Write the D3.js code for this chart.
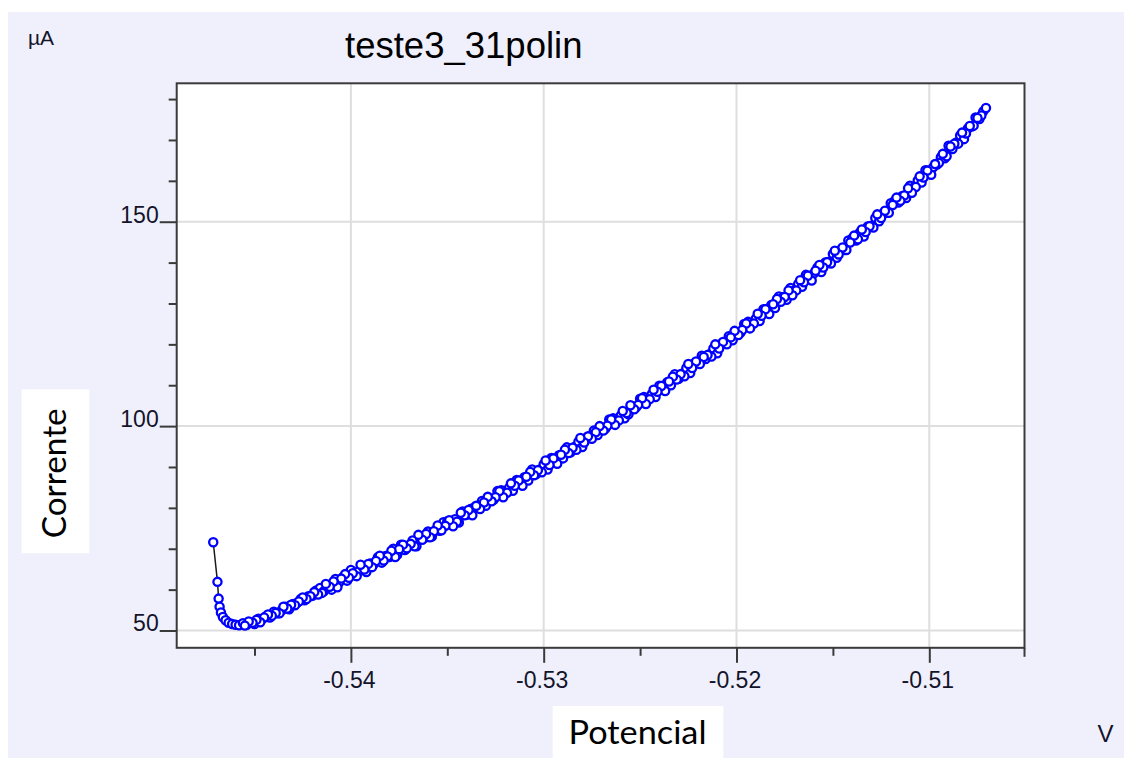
<!DOCTYPE html>
<html>
<head>
<meta charset="utf-8">
<script src="https://cdn.jsdelivr.net/npm/d3@7"></script>
<style>
  html, body { margin: 0; padding: 0; background: #ffffff; }
  svg { display: block; }
</style>
</head>
<body>
<svg id="chart" width="1124" height="758"></svg>
<script>
// ---- data ---------------------------------------------------------------
const chartTitle = "teste3_31polin";
const yUnit = "µA";
const xUnit = "V";
const yAxisTitle = "Corrente";
const xAxisTitle = "Potencial";

const xTicks = [-0.54, -0.53, -0.52, -0.51];
const xMinorTicks = [-0.545, -0.535, -0.525, -0.515];
const yTicks = [50, 100, 150];
const yMinorTicks = [60, 70, 80, 90, 110, 120, 130, 140, 160, 170, 180];

// forward sweep: applied potential (V)
const potential = [
  -0.54714, -0.54692, -0.54686, -0.54681, -0.54674, -0.54664, -0.54650, -0.54634, -0.54616, -0.54598, -0.54580,
  -0.5456, -0.5454, -0.5452, -0.5450, -0.5448, -0.5446, -0.5444, -0.5442, -0.5440, -0.5438,
  -0.5436, -0.5434, -0.5432, -0.5430, -0.5428, -0.5426, -0.5424, -0.5422, -0.5420, -0.5418,
  -0.5416, -0.5414, -0.5412, -0.5410, -0.5408, -0.5406, -0.5404, -0.5402, -0.5400, -0.5398,
  -0.5396, -0.5394, -0.5392, -0.5390, -0.5388, -0.5386, -0.5384, -0.5382, -0.5380, -0.5378,
  -0.5376, -0.5374, -0.5372, -0.5370, -0.5368, -0.5366, -0.5364, -0.5362, -0.5360, -0.5358,
  -0.5356, -0.5354, -0.5352, -0.5350, -0.5348, -0.5346, -0.5344, -0.5342, -0.5340, -0.5338,
  -0.5336, -0.5334, -0.5332, -0.5330, -0.5328, -0.5326, -0.5324, -0.5322, -0.5320, -0.5318,
  -0.5316, -0.5314, -0.5312, -0.5310, -0.5308, -0.5306, -0.5304, -0.5302, -0.5300, -0.5298,
  -0.5296, -0.5294, -0.5292, -0.5290, -0.5288, -0.5286, -0.5284, -0.5282, -0.5280, -0.5278,
  -0.5276, -0.5274, -0.5272, -0.5270, -0.5268, -0.5266, -0.5264, -0.5262, -0.5260, -0.5258,
  -0.5256, -0.5254, -0.5252, -0.5250, -0.5248, -0.5246, -0.5244, -0.5242, -0.5240, -0.5238,
  -0.5236, -0.5234, -0.5232, -0.5230, -0.5228, -0.5226, -0.5224, -0.5222, -0.5220, -0.5218,
  -0.5216, -0.5214, -0.5212, -0.5210, -0.5208, -0.5206, -0.5204, -0.5202, -0.5200, -0.5198,
  -0.5196, -0.5194, -0.5192, -0.5190, -0.5188, -0.5186, -0.5184, -0.5182, -0.5180, -0.5178,
  -0.5176, -0.5174, -0.5172, -0.5170, -0.5168, -0.5166, -0.5164, -0.5162, -0.5160, -0.5158,
  -0.5156, -0.5154, -0.5152, -0.5150, -0.5148, -0.5146, -0.5144, -0.5142, -0.5140, -0.5138,
  -0.5136, -0.5134, -0.5132, -0.5130, -0.5128, -0.5126, -0.5124, -0.5122, -0.5120, -0.5118,
  -0.5116, -0.5114, -0.5112, -0.5110, -0.5108, -0.5106, -0.5104, -0.5102, -0.5100, -0.5098,
  -0.5096, -0.5094, -0.5092, -0.5090, -0.5088, -0.5086, -0.5084, -0.5082, -0.5080, -0.5078,
  -0.5076, -0.5074, -0.5072, -0.50706
];

// forward sweep: measured current (µA)
const current = [
  71.6, 61.9, 57.8, 55.8, 54.4, 53.3, 52.5, 51.9, 51.6, 51.4, 51.3,
  51.8, 51.4, 51.9, 51.6, 52.9, 52.8, 53.5, 53.2, 54.6, 54.2,
  54.9, 55.8, 55.2, 56.5, 56.7, 57.7, 57.4, 58.4, 58.5, 59.8,
  60.4, 59.6, 60.8, 60.0, 62.6, 61.8, 63.1, 62.2, 64.8, 63.5,
  64.5, 65.7, 64.3, 66.4, 66.3, 67.9, 66.6, 68.2, 68.0, 70.0,
  68.5, 71.0, 69.7, 70.8, 72.0, 70.6, 72.7, 72.6, 74.2, 73.0,
  74.6, 74.4, 76.5, 76.7, 75.9, 77.2, 76.4, 79.1, 78.3, 79.7,
  80.1, 80.0, 81.7, 80.5, 82.2, 82.0, 84.1, 84.3, 83.6, 84.9,
  84.2, 86.8, 86.1, 87.5, 86.7, 89.4, 88.2, 89.4, 90.7, 89.4,
  92.2, 91.5, 92.9, 92.1, 94.8, 93.6, 94.9, 96.2, 94.9, 97.1,
  97.1, 98.9, 97.8, 99.5, 99.4, 101.6, 101.9, 101.3, 102.6, 101.9,
  102.9, 104.6, 104.6, 106.7, 107.1, 106.4, 107.8, 107.1, 109.9, 109.2,
  110.7, 110.0, 112.7, 111.6, 112.9, 114.2, 113.0, 115.3, 115.4, 117.2,
  116.4, 117.6, 119.0, 117.8, 120.1, 120.2, 122.0, 121.0, 122.8, 122.8,
  125.0, 125.5, 124.9, 126.3, 125.7, 128.6, 128.0, 129.6, 128.9, 131.7,
  131.5, 130.9, 133.8, 133.2, 134.8, 134.1, 137.0, 135.9, 137.3, 138.8,
  137.7, 140.0, 140.2, 142.1, 141.2, 143.1, 143.1, 145.4, 145.9, 145.4,
  147.4, 146.4, 148.8, 149.0, 150.9, 150.1, 152.0, 152.2, 154.5, 155.1,
  154.7, 156.3, 155.8, 158.8, 158.4, 160.1, 159.6, 162.6, 161.7, 163.3,
  164.0, 165.8, 165.5, 168.6, 167.8, 169.4, 171.1, 170.2, 172.8, 173.3,
  175.5, 175.1, 177.0, 177.8
];

// return sweep (listed by increasing potential): potential (V)
const returnPotential = [
  -0.5455, -0.5453, -0.5451, -0.5449, -0.5447, -0.5445, -0.5443, -0.5441, -0.5439, -0.5437,
  -0.5435, -0.5433, -0.5431, -0.5429, -0.5427, -0.5425, -0.5423, -0.5421, -0.5419, -0.5417,
  -0.5415, -0.5413, -0.5411, -0.5409, -0.5407, -0.5405, -0.5403, -0.5401, -0.5399, -0.5397,
  -0.5395, -0.5393, -0.5391, -0.5389, -0.5387, -0.5385, -0.5383, -0.5381, -0.5379, -0.5377,
  -0.5375, -0.5373, -0.5371, -0.5369, -0.5367, -0.5365, -0.5363, -0.5361, -0.5359, -0.5357,
  -0.5355, -0.5353, -0.5351, -0.5349, -0.5347, -0.5345, -0.5343, -0.5341, -0.5339, -0.5337,
  -0.5335, -0.5333, -0.5331, -0.5329, -0.5327, -0.5325, -0.5323, -0.5321, -0.5319, -0.5317,
  -0.5315, -0.5313, -0.5311, -0.5309, -0.5307, -0.5305, -0.5303, -0.5301, -0.5299, -0.5297,
  -0.5295, -0.5293, -0.5291, -0.5289, -0.5287, -0.5285, -0.5283, -0.5281, -0.5279, -0.5277,
  -0.5275, -0.5273, -0.5271, -0.5269, -0.5267, -0.5265, -0.5263, -0.5261, -0.5259, -0.5257,
  -0.5255, -0.5253, -0.5251, -0.5249, -0.5247, -0.5245, -0.5243, -0.5241, -0.5239, -0.5237,
  -0.5235, -0.5233, -0.5231, -0.5229, -0.5227, -0.5225, -0.5223, -0.5221, -0.5219, -0.5217,
  -0.5215, -0.5213, -0.5211, -0.5209, -0.5207, -0.5205, -0.5203, -0.5201, -0.5199, -0.5197,
  -0.5195, -0.5193, -0.5191, -0.5189, -0.5187, -0.5185, -0.5183, -0.5181, -0.5179, -0.5177,
  -0.5175, -0.5173, -0.5171, -0.5169, -0.5167, -0.5165, -0.5163, -0.5161, -0.5159, -0.5157,
  -0.5155, -0.5153, -0.5151, -0.5149, -0.5147, -0.5145, -0.5143, -0.5141, -0.5139, -0.5137,
  -0.5135, -0.5133, -0.5131, -0.5129, -0.5127, -0.5125, -0.5123, -0.5121, -0.5119, -0.5117,
  -0.5115, -0.5113, -0.5111, -0.5109, -0.5107, -0.5105, -0.5103, -0.5101, -0.5099, -0.5097,
  -0.5095, -0.5093, -0.5091, -0.5089, -0.5087, -0.5085, -0.5083, -0.5081, -0.5079, -0.5077,
  -0.5075, -0.5073
];

// return sweep (listed by increasing potential): current (µA)
const returnCurrent = [
  51.2, 52.2, 51.9, 52.6, 52.0, 53.2, 53.9, 53.6, 54.3, 54.2,
  55.8, 55.4, 56.3, 56.2, 57.1, 58.1, 57.7, 58.4, 59.4, 58.8,
  59.2, 61.4, 60.7, 62.0, 60.6, 62.7, 63.8, 62.9, 64.0, 63.3,
  66.1, 64.9, 66.3, 65.5, 67.0, 68.3, 67.1, 68.1, 69.5, 68.0,
  69.9, 71.0, 70.1, 71.2, 70.6, 73.4, 72.2, 73.6, 72.8, 74.3,
  75.7, 74.5, 75.6, 77.0, 75.5, 76.6, 78.8, 78.2, 79.5, 78.2,
  80.5, 79.7, 81.3, 82.7, 81.6, 82.6, 84.1, 82.6, 83.7, 86.0,
  85.4, 86.7, 85.4, 87.6, 88.8, 88.0, 89.2, 88.7, 91.6, 90.5,
  92.1, 90.8, 93.0, 94.2, 93.4, 94.7, 94.2, 97.1, 96.0, 97.5,
  96.9, 98.5, 100.0, 98.9, 100.1, 101.6, 100.3, 101.4, 103.7, 103.2,
  105.1, 104.1, 105.2, 106.8, 105.4, 106.6, 108.9, 108.4, 109.8, 108.6,
  110.9, 112.1, 111.4, 112.7, 112.2, 115.2, 114.2, 115.8, 115.2, 116.9,
  117.4, 117.0, 120.0, 119.0, 120.6, 120.0, 121.7, 123.3, 122.3, 123.5,
  125.1, 123.9, 125.1, 127.5, 127.0, 128.6, 127.4, 129.8, 131.1, 130.4,
  131.6, 133.2, 132.0, 133.2, 135.7, 135.2, 136.8, 135.6, 138.0, 139.4,
  138.8, 140.1, 139.8, 142.9, 142.0, 143.7, 143.1, 144.9, 146.6, 145.7,
  148.1, 147.5, 148.9, 148.6, 151.8, 150.9, 152.7, 152.2, 154.1, 155.9,
  155.1, 156.4, 158.2, 157.1, 158.5, 161.1, 160.8, 162.5, 161.5, 164.1,
  164.4, 166.6, 166.0, 168.4, 169.1, 169.1, 171.8, 171.6, 173.4, 173.5,
  175.4, 176.0
];

// ---- layout -------------------------------------------------------------
const plot = { left: 176.7, top: 83.3, right: 1024.5, bottom: 647.8 };
const axisColor = "#3a3a3a";
const labelColor = "#14142a";
const sansFont = "'Liberation Sans', Arial, sans-serif";
const labelFont = "Lato, 'Open Sans', sans-serif";

const svg = d3.select("#chart");

// panel background
svg.append("rect")
  .attr("x", 8).attr("y", 12)
  .attr("width", 1116).attr("height", 746)
  .attr("fill", "#f0f0fd");

// white plotting area
svg.append("rect")
  .attr("x", plot.left).attr("y", plot.top)
  .attr("width", plot.right - plot.left).attr("height", plot.bottom - plot.top)
  .attr("fill", "#ffffff");

// ---- scales -------------------------------------------------------------
const x = d3.scaleLinear()
  .domain([-0.549035, -0.505062])
  .range([plot.left, plot.right]);
const y = d3.scaleLinear()
  .domain([45.77, 183.86])
  .range([plot.bottom, plot.top]);

// ---- grid ---------------------------------------------------------------
const grid = svg.append("g").attr("stroke", "#dedede").attr("stroke-width", 2);
grid.selectAll("line.gx").data(xTicks).join("line")
  .attr("class", "gx")
  .attr("x1", d => x(d)).attr("x2", d => x(d))
  .attr("y1", plot.top).attr("y2", plot.bottom);
grid.selectAll("line.gy").data(yTicks).join("line")
  .attr("class", "gy")
  .attr("x1", plot.left).attr("x2", plot.right)
  .attr("y1", d => y(d)).attr("y2", d => y(d));

// ---- axes ---------------------------------------------------------------
function styleAxis(g) {
  g.select(".domain").remove();
  g.selectAll(".tick line").attr("stroke", axisColor).attr("stroke-width", 2);
  g.selectAll(".tick text")
    .attr("fill", labelColor)
    .style("font-family", sansFont)
    .style("font-size", "23px");
}

// major x ticks with labels
svg.append("g")
  .attr("transform", `translate(0,${plot.bottom})`)
  .call(d3.axisBottom(x).tickValues(xTicks).tickSize(15)
    .tickFormat(d => d.toFixed(2)))
  .call(styleAxis)
  .call(g => g.selectAll(".tick text").attr("y", 40).attr("dy", 0).attr("dx", -2));

// minor x ticks
svg.append("g")
  .attr("transform", `translate(0,${plot.bottom})`)
  .call(d3.axisBottom(x).tickValues(xMinorTicks).tickSize(8).tickFormat(""))
  .call(styleAxis);

// major y ticks with labels
svg.append("g")
  .attr("transform", `translate(${plot.left},0)`)
  .call(d3.axisLeft(y).tickValues(yTicks).tickSize(17).tickPadding(1)
    .tickFormat(d3.format("d")))
  .call(styleAxis)
  .call(g => g.selectAll(".tick text").attr("dy", "0.02em"));

// minor y ticks
svg.append("g")
  .attr("transform", `translate(${plot.left},0)`)
  .call(d3.axisLeft(y).tickValues(yMinorTicks).tickSize(8).tickFormat(""))
  .call(styleAxis);

// frame around the plotting area
svg.append("rect")
  .attr("x", plot.left).attr("y", plot.top)
  .attr("width", plot.right - plot.left).attr("height", plot.bottom - plot.top)
  .attr("fill", "none").attr("stroke", axisColor).attr("stroke-width", 2);
svg.append("line")
  .attr("x1", plot.right).attr("x2", plot.right)
  .attr("y1", plot.bottom).attr("y2", plot.bottom + 9)
  .attr("stroke", axisColor).attr("stroke-width", 2);

// ---- data series --------------------------------------------------------
// forward sweep followed by the return sweep, in acquisition order
const forwardPts = potential.map((v, k) => ({ v, i: current[k] }));
const returnPts = returnPotential.map((v, k) => ({ v, i: returnCurrent[k] })).reverse();
const points = forwardPts.concat(returnPts);

svg.append("clipPath").attr("id", "plot-clip")
  .append("rect")
  .attr("x", plot.left).attr("y", plot.top)
  .attr("width", plot.right - plot.left).attr("height", plot.bottom - plot.top);

const series = svg.append("g").attr("clip-path", "url(#plot-clip)");

series.append("path")
  .datum(points)
  .attr("fill", "none")
  .attr("stroke", "#1a1a1a")
  .attr("stroke-width", 1.5)
  .attr("d", d3.line().x(d => x(d.v)).y(d => y(d.i)));

series.selectAll("circle").data(points).join("circle")
  .attr("cx", d => x(d.v))
  .attr("cy", d => y(d.i))
  .attr("r", 4.1)
  .attr("fill", "#ffffff")
  .attr("stroke", "#0000ff")
  .attr("stroke-width", 2.3);

// ---- titles and units ---------------------------------------------------
svg.append("text")
  .attr("x", 345).attr("y", 57.5)
  .attr("fill", "#000000")
  .style("font-family", sansFont)
  .style("font-size", "36.5px")
  .text(chartTitle);

svg.append("text")
  .attr("x", 28).attr("y", 45)
  .attr("fill", labelColor)
  .style("font-family", sansFont)
  .style("font-size", "21px")
  .text(yUnit);

svg.append("text")
  .attr("x", 1097.5).attr("y", 741.5)
  .attr("fill", labelColor)
  .style("font-family", sansFont)
  .style("font-size", "24px")
  .text(xUnit);

// axis titles on white boxes
svg.append("rect")
  .attr("x", 21.7).attr("y", 389.3)
  .attr("width", 67.6).attr("height", 164)
  .attr("fill", "#ffffff");
svg.append("text")
  .attr("transform", "translate(66,473.3) rotate(-90)")
  .attr("text-anchor", "middle")
  .attr("fill", "#000000")
  .attr("textLength", 130)
  .attr("lengthAdjust", "spacingAndGlyphs")
  .style("font-family", labelFont)
  .style("font-size", "33px")
  .text(yAxisTitle);

svg.append("rect")
  .attr("x", 552.7).attr("y", 706)
  .attr("width", 170.6).attr("height", 52)
  .attr("fill", "#ffffff");
svg.append("text")
  .attr("x", 637.5).attr("y", 744)
  .attr("text-anchor", "middle")
  .attr("fill", "#000000")
  .attr("textLength", 138)
  .attr("lengthAdjust", "spacingAndGlyphs")
  .style("font-family", labelFont)
  .style("font-size", "33px")
  .text(xAxisTitle);
</script>
</body>
</html>
